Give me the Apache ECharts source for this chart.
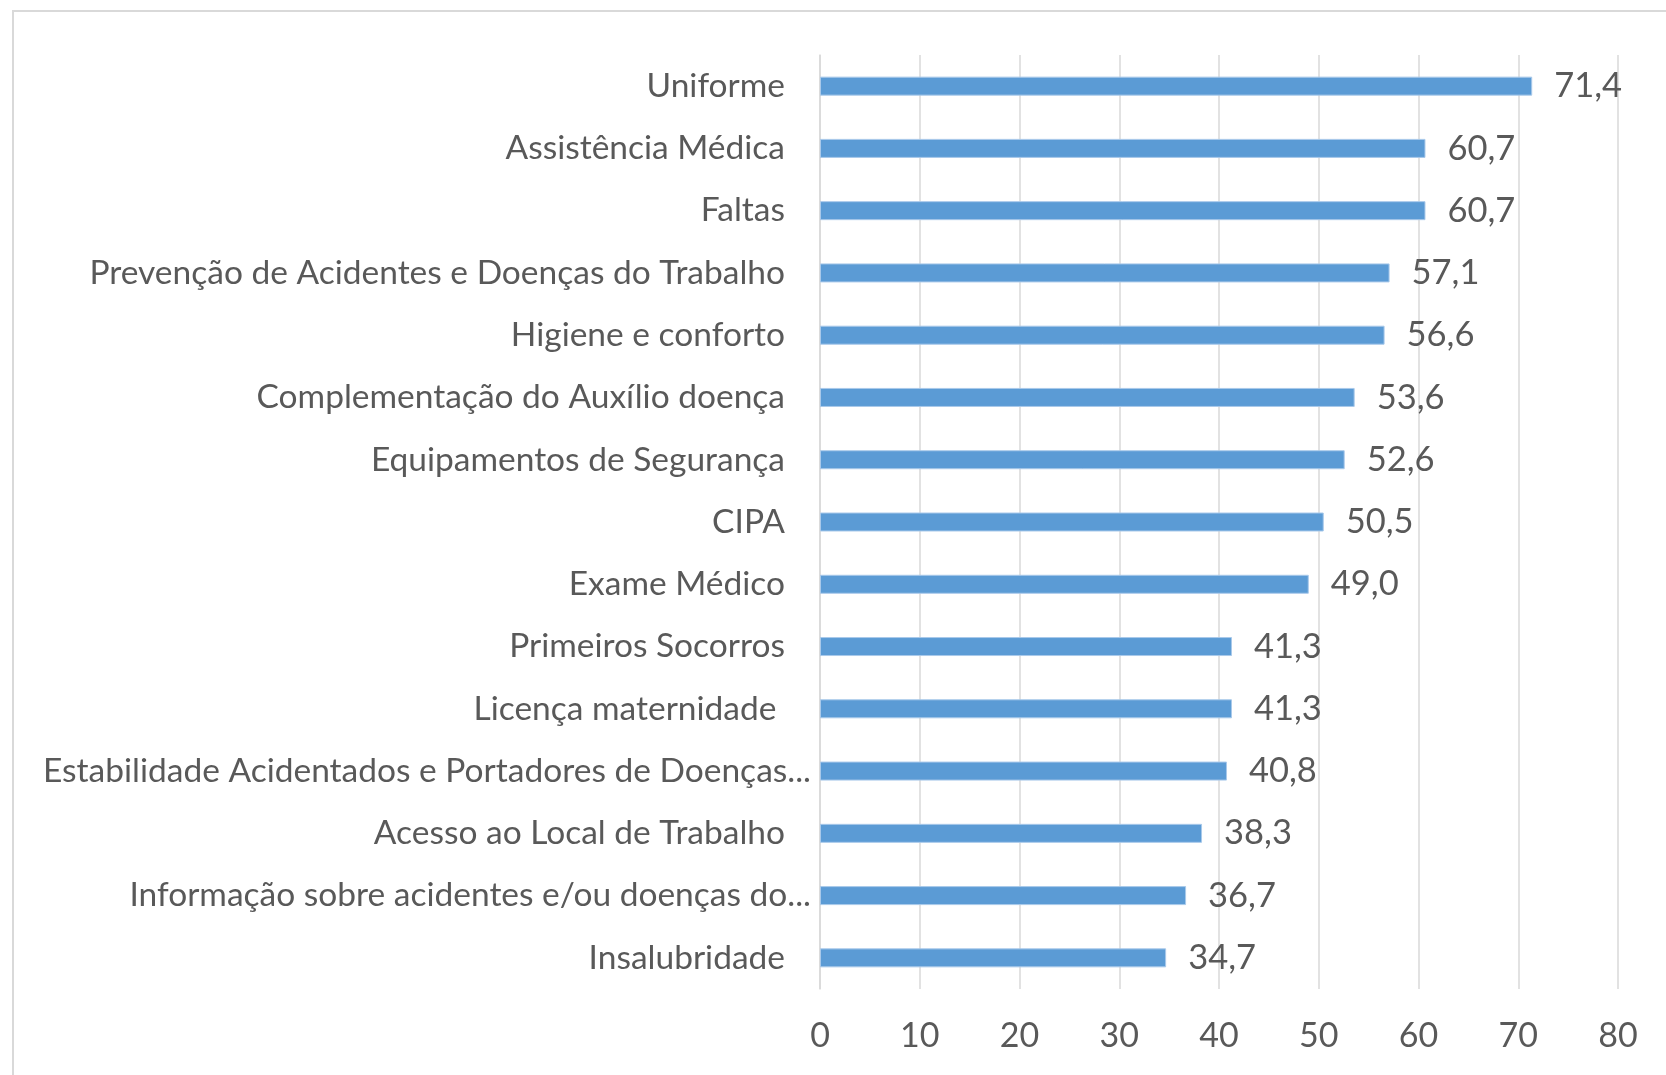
<!DOCTYPE html>
<html>
<head>
<meta charset="utf-8">
<script src="https://cdn.jsdelivr.net/npm/echarts@6/dist/echarts.min.js"></script>
<style>
html,body{margin:0;padding:0;background:#fff;}
#c{width:1666px;height:1075px;}
</style>
</head>
<body>
<div id="c"></div>
<script>
const categories = [
  "Uniforme",
  "Assistência Médica",
  "Faltas",
  "Prevenção de Acidentes e Doenças do Trabalho",
  "Higiene e conforto",
  "Complementação do Auxílio doença",
  "Equipamentos de Segurança",
  "CIPA",
  "Exame Médico",
  "Primeiros Socorros",
  "Licença maternidade ",
  "Estabilidade Acidentados e Portadores de Doenças...",
  "Acesso ao Local de Trabalho",
  "Informação sobre acidentes e/ou doenças do...",
  "Insalubridade"
];
const values = [71.4, 60.7, 60.7, 57.1, 56.6, 53.6, 52.6, 50.5, 49.0, 41.3, 41.3, 40.8, 38.3, 36.7, 34.7];
const xTicks = [0, 10, 20, 30, 40, 50, 60, 70, 80];

const chart = echarts.init(document.getElementById('c'));
const font = 'Lato';
const txt = '#595959';
chart.setOption({
  animation: false,
  backgroundColor: '#ffffff',
  graphic: [{
    type: 'rect',
    shape: {x: 13, y: 11, width: 1700, height: 1100},
    style: {fill: 'none', stroke: '#d9d9d9', lineWidth: 2},
    silent: true
  }],
  grid: {left: 820, right: 48, top: 55, bottom: 86, containLabel: false},
  xAxis: {
    type: 'value',
    min: xTicks[0],
    max: xTicks[xTicks.length - 1],
    interval: 10,
    axisLine: {show: false},
    axisTick: {show: false},
    splitLine: {show: true, lineStyle: {color: '#d9d9d9', width: 1.5}},
    axisLabel: {color: txt, fontFamily: font, fontSize: 34, margin: 30}
  },
  yAxis: {
    type: 'category',
    inverse: true,
    data: categories,
    axisLine: {show: true, lineStyle: {color: '#d9d9d9', width: 1.5}},
    axisTick: {show: false},
    axisLabel: {
      margin: 9,
      formatter: function (v) {
        return v.indexOf('...') >= 0 ? '{t|' + v + '}' : '{n|' + v + '}';
      },
      rich: {
        t: {color: txt, fontFamily: font, fontSize: 33.5},
        n: {color: txt, fontFamily: font, fontSize: 33.5, padding: [0, 26, 0, 0]}
      }
    }
  },
  series: [{
    type: 'bar',
    data: values,
    barWidth: 19,
    itemStyle: {color: '#5b9bd5', borderColor: '#a9c9ea', borderWidth: 1},
    label: {
      show: true,
      position: 'right',
      distance: 22,
      color: txt,
      fontFamily: font,
      fontSize: 34.5,
      formatter: function (p) { return p.value.toFixed(1).replace('.', ','); }
    }
  }]
});
</script>
</body>
</html>
